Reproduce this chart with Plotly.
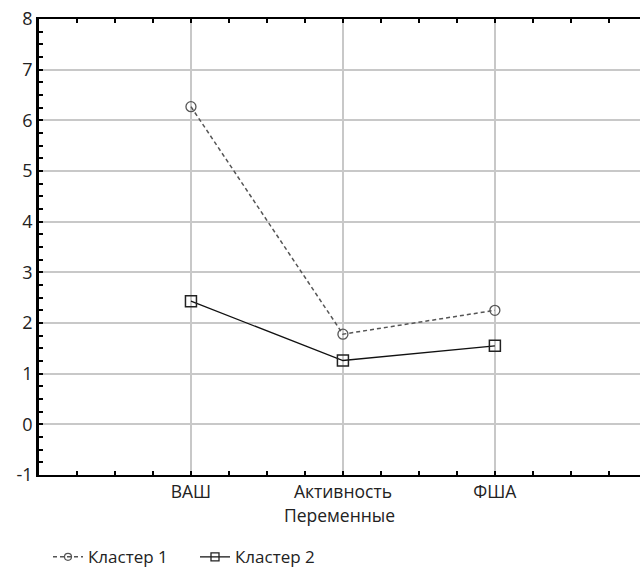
import plotly.graph_objects as go

categories = ["ВАШ", "Активность", "ФША"]
cluster1 = [6.27, 1.78, 2.25]
cluster2 = [2.43, 1.26, 1.55]
y_ticks = [-1, 0, 1, 2, 3, 4, 5, 6, 7, 8]
y_tick_text = ["-1", "0", "1", "2", "3", "4", "5", "6", "7", "8"]

xpos = list(range(1, len(categories) + 1))

c1_line = dict(color="#555555", width=1.5, dash="4px,3px")
c2_line = dict(color="#111111", width=1.3)

fig = go.Figure()
fig.add_trace(go.Scatter(
    x=xpos, y=cluster1, name="Кластер 1", mode="lines+markers", showlegend=False,
    line=c1_line,
    marker=dict(symbol="circle-open", size=10, color="#555555", line=dict(width=1.3)),
))
fig.add_trace(go.Scatter(
    x=xpos, y=cluster2, name="Кластер 2", mode="lines+markers", showlegend=False,
    line=c2_line,
    marker=dict(symbol="square-open", size=11, color="#222222", line=dict(width=1.5)),
))
# legend entries with smaller symbols
fig.add_trace(go.Scatter(
    x=[None], y=[None], name="Кластер 1", mode="lines+markers",
    line=c1_line,
    marker=dict(symbol="circle-open", size=7, color="#555555", line=dict(width=1.2)),
))
fig.add_trace(go.Scatter(
    x=[None], y=[None], name="Кластер 2", mode="lines+markers",
    line=c2_line,
    marker=dict(symbol="square-open", size=8, color="#222222", line=dict(width=1.3)),
))

fig.update_layout(
    width=640, height=571,
    margin=dict(l=39, r=0, t=19, b=96),
    paper_bgcolor="white", plot_bgcolor="white",
    font=dict(family="Open Sans, Noto Sans, sans-serif", color="#222222", size=17),
    showlegend=True,
    legend=dict(orientation="h", xref="container", yref="container",
                x=0.075, y=0.024, xanchor="left", yanchor="middle",
                font=dict(size=17), entrywidth=102, tracegroupgap=0),
    xaxis=dict(
        range=[0, 3.955], tickmode="array", tickvals=xpos, ticktext=categories,
        showgrid=True, gridcolor="#c8c8c8", gridwidth=1.5,
        showline=True, linecolor="black", linewidth=2, mirror="ticks",
        ticks="inside", ticklen=4, tickcolor="black", tickwidth=1.5,
        minor=dict(ticks="inside", dtick=0.25, tick0=0, ticklen=4, tickcolor="black", showgrid=False),
        tickfont=dict(size=17.5), zeroline=False,
        title=dict(text="Переменные", font=dict(size=17.5), standoff=8),
    ),
    yaxis=dict(
        range=[-1, 8], tickmode="array", tickvals=y_ticks, ticktext=y_tick_text,
        showgrid=True, gridcolor="#c8c8c8", gridwidth=1.5,
        showline=True, linecolor="black", linewidth=2.5, mirror=False,
        ticks="inside", ticklen=4, tickcolor="black", tickwidth=1.5,
        minor=dict(ticks="inside", dtick=0.25, tick0=0, ticklen=4, tickcolor="black", showgrid=False),
        tickfont=dict(size=18), zeroline=False,
    ),
)

fig.write_html("out.html")
